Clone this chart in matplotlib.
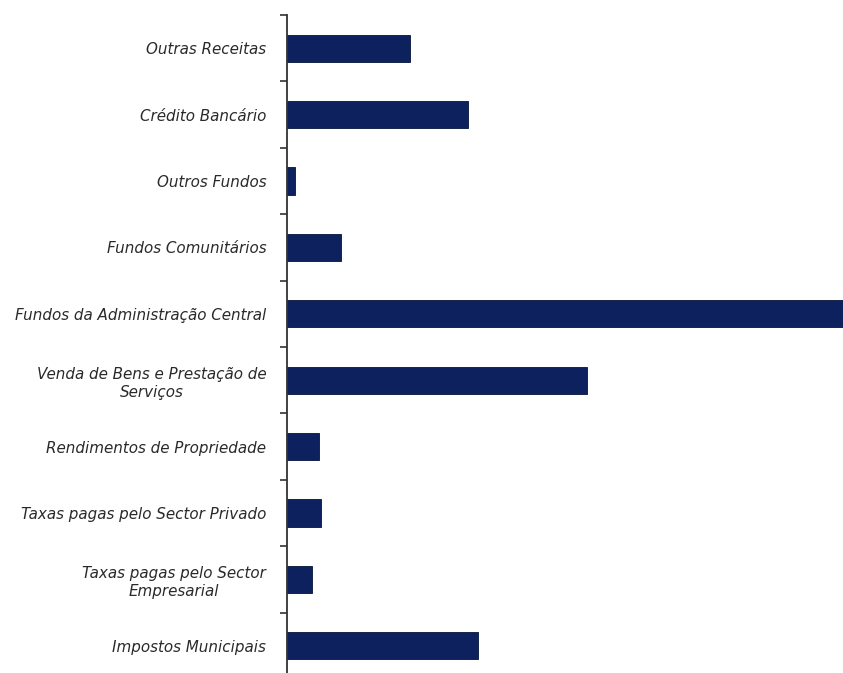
#!/usr/bin/env python3
"""receitas_municipais.py"""

import matplotlib
matplotlib.use("Agg")
import matplotlib.pyplot as plt
import numpy as np

# Revenue sources, listed top to bottom as drawn
categories = [
    "Outras Receitas",
    "Crédito Bancário",
    "Outros Fundos",
    "Fundos Comunitários",
    "Fundos da Administração Central",
    "Venda de Bens e Prestação de\nServiços",
    "Rendimentos de Propriedade",
    "Taxas pagas pelo Sector Privado",
    "Taxas pagas pelo Sector\nEmpresarial",
    "Impostos Municipais",
]
values = [123, 181, 8, 54, 565, 300, 32, 34, 25, 191]

BAR_COLOR = "#0c215e"


def main() -> None:
    fig = plt.figure(figsize=(8.43, 6.73), dpi=100)
    # Axes spans from the vertical axis line to the right edge; bottom runs slightly off the canvas
    ax = fig.add_axes([287 / 843, -6 / 673, 556 / 843, 664 / 673])

    pos = np.arange(len(categories))
    ax.barh(pos, values, height=0.41, color=BAR_COLOR, edgecolor="#06133a", linewidth=0.6)

    ax.set_ylim(len(categories) - 0.5, -0.5)
    ax.set_xlim(0, 556)

    # Category labels at bar centres, tick marks only at the category boundaries
    ax.set_yticks(pos)
    ax.set_yticklabels(categories, fontsize=10.9, fontstyle="italic", color="#2a2a2a",
                       multialignment="center", linespacing=1.25)
    ax.tick_params(axis="y", which="major", length=0, pad=15)
    ax.set_yticks(np.arange(-0.5, len(categories), 1.0), minor=True)
    ax.tick_params(axis="y", which="minor", length=5, width=1.2, color="#333333", direction="out")

    ax.set_xticks([])
    for side in ("top", "right", "bottom"):
        ax.spines[side].set_visible(False)
    ax.spines["left"].set_color("#333333")
    ax.spines["left"].set_linewidth(1.3)

    fig.savefig("out.png", dpi=100)


if __name__ == "__main__":
    main()
